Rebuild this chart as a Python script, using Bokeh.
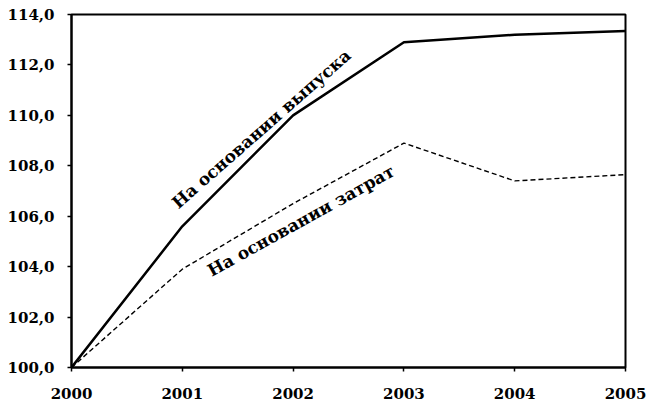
from bokeh.plotting import figure
from bokeh.models import Label, FixedTicker, Range1d
from bokeh.embed import file_html
from bokeh.resources import INLINE

years = [2000, 2001, 2002, 2003, 2004, 2005]
output_based = [100.0, 105.6, 110.0, 112.9, 113.2, 113.35]
input_based = [100.0, 103.9, 106.5, 108.9, 107.4, 107.65]
y_ticks = [100, 102, 104, 106, 108, 110, 112, 114]
label_output = "На основании выпуска"
label_input = "На основании затрат"

FONT = "DejaVu Serif"

p = figure(width=650, height=404, output_backend="svg", toolbar_location=None,
           x_range=Range1d(2000, 2005), y_range=Range1d(100, 114),
           min_border_left=71, min_border_right=25, min_border_top=14, min_border_bottom=37)

p.line(years, output_based, line_color="black", line_width=2.5)
p.line(years, input_based, line_color="black", line_width=1.4, line_dash="5 3")

p.grid.visible = False
p.outline_line_color = "black"
p.outline_line_width = 2
p.background_fill_color = "white"
p.border_fill_color = "white"

p.xaxis.ticker = FixedTicker(ticks=years)
p.yaxis.ticker = FixedTicker(ticks=y_ticks)
p.yaxis.major_label_overrides = {t: f"{t:.1f}".replace(".", ",") for t in y_ticks}
p.xaxis.major_label_overrides = {y: str(y) for y in years}

for ax in (p.xaxis[0], p.yaxis[0]):
    ax.axis_line_color = "black"
    ax.axis_line_width = 2
    ax.major_tick_line_color = "black"
    ax.major_tick_line_width = 1.5
    ax.major_tick_out = 4
    ax.major_tick_in = 0
    ax.minor_tick_line_color = None
    ax.major_label_text_font = FONT
    ax.major_label_text_font_style = "bold"
    ax.major_label_text_font_size = "15px"
    ax.major_label_text_color = "black"

p.xaxis.major_label_standoff = 16
p.yaxis.major_label_standoff = 13

p.add_layout(Label(x=2000.93, y=106.45, text=label_output, angle=0.72, angle_units="rad",
                   text_font=FONT, text_font_style="bold", text_font_size="17px",
                   text_color="black", text_baseline="alphabetic", text_align="left"))
p.add_layout(Label(x=2001.24, y=103.8, text=label_input, angle=0.506, angle_units="rad",
                   text_font=FONT, text_font_style="bold", text_font_size="17px",
                   text_color="black", text_baseline="alphabetic", text_align="left"))

open("out.html", "w").write(file_html(p, INLINE))
